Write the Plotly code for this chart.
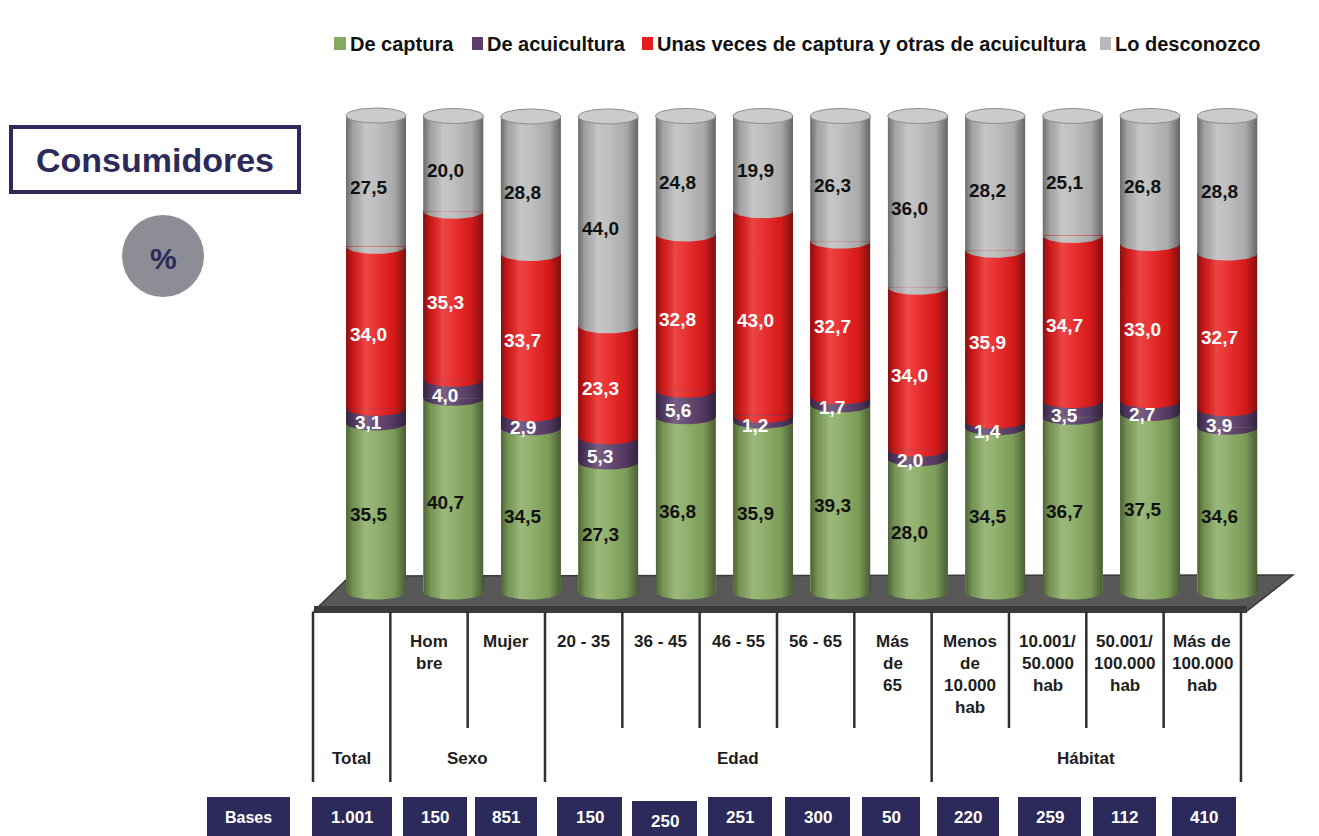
import numpy as np
import plotly.graph_objects as go

# ---- data -------------------------------------------------------------
categorias = ["Total", "Hombre", "Mujer", "20 - 35", "36 - 45", "46 - 55", "56 - 65",
              "Más de 65", "Menos de 10.000 hab", "10.001/50.000 hab",
              "50.001/100.000 hab", "Más de 100.000 hab"]
etiquetas_tabla = [[], ["Hom", "bre"], ["Mujer"], ["20 - 35"], ["36 - 45"], ["46 - 55"],
                   ["56 - 65"], ["Más", "de", "65"], ["Menos", "de", "10.000", "hab"],
                   ["10.001/", "50.000", "hab"], ["50.001/", "100.000", "hab"],
                   ["Más de", "100.000", "hab"]]
grupos = ["Total", "Sexo", "Edad", "Hábitat"]
grupo_columnas = [(0, 0), (1, 2), (3, 7), (8, 11)]

de_captura = [35.5, 40.7, 34.5, 27.3, 36.8, 35.9, 39.3, 28.0, 34.5, 36.7, 37.5, 34.6]
de_acuicultura = [3.1, 4.0, 2.9, 5.3, 5.6, 1.2, 1.7, 2.0, 1.4, 3.5, 2.7, 3.9]
unas_y_otras = [34.0, 35.3, 33.7, 23.3, 32.8, 43.0, 32.7, 34.0, 35.9, 34.7, 33.0, 32.7]
lo_desconozco = [27.5, 20.0, 28.8, 44.0, 24.8, 19.9, 26.3, 36.0, 28.2, 25.1, 26.8, 28.8]
bases = ["1.001", "150", "851", "150", "250", "251", "300", "50", "220", "259", "112", "410"]

series = [
    ("De captura", de_captura, "#86a95f", "#111111"),
    ("De acuicultura", de_acuicultura, "#5a3d6a", "#ffffff"),
    ("Unas veces de captura y otras de acuicultura", unas_y_otras, "#e81c1c", "#ffffff"),
    ("Lo desconozco", lo_desconozco, "#b9b9b9", "#111111"),
]

# ---- page geometry ----------------------------------------------------
W, H = 1319, 836
NAVY = "#2c2a5a"


def px(x):
    return x / W


def py(y):
    return 1 - y / H


# axis scales: one category unit = 77.4 px, 1 % = 4.76 px
CENTER0, STEP = 376, 77.4
ZERO_PX, PER = 592, 4.76
xa = -CENTER0 / STEP
xr = [xa, xa + W / STEP]
yr = [(ZERO_PX - H) / PER, ZERO_PX / PER]

HALF_W = 30 / STEP        # cylinder half width (x units)
ELL = 7.5 / PER           # ellipse half height (y units)

idx = list(range(len(categorias)))
fig = go.Figure()

# stacked bodies
for name, vals, col, _ in series:
    fig.add_trace(go.Bar(x=idx, y=vals, name=name, width=2 * HALF_W,
                         marker=dict(color=col, line=dict(width=0)),
                         hoverinfo="skip", showlegend=False))

t = np.linspace(0, np.pi, 25)


def lower_arc(xc, level):
    return list(xc - HALF_W * np.cos(t)), list(level - ELL * np.sin(t))


cum = np.zeros(len(idx))
for k, (name, vals, col, _) in enumerate(series):
    ax, ay = [], []
    for i in idx:
        xs, ys = lower_arc(i, cum[i])
        ax += xs + [i - HALF_W, None]
        ay += ys + [cum[i], None]
    fig.add_trace(go.Scatter(x=ax, y=ay, mode="lines", fill="toself", fillcolor=col,
                             line=dict(width=0), hoverinfo="skip", showlegend=False))
    cum = cum + np.array(vals)

totals = cum.copy()

# cylindrical shading
for i in idx:
    xs, ys = lower_arc(i, 0)
    ox = [i - HALF_W] + xs + [i + HALF_W, i - HALF_W]
    oy = [totals[i]] + ys + [totals[i], totals[i]]
    fig.add_trace(go.Scatter(
        x=ox, y=oy, mode="lines", fill="toself", line=dict(width=0),
        fillgradient=dict(type="horizontal", colorscale=[
            [0.0, "rgba(0,0,0,0.42)"], [0.12, "rgba(0,0,0,0.12)"],
            [0.32, "rgba(255,255,255,0.18)"], [0.5, "rgba(255,255,255,0.10)"],
            [0.8, "rgba(0,0,0,0.08)"], [1.0, "rgba(0,0,0,0.45)"]]),
        hoverinfo="skip", showlegend=False))

# top caps
tt = np.linspace(0, 2 * np.pi, 49)
cx, cy = [], []
for i in idx:
    cx += list(i - HALF_W * np.cos(tt)) + [None]
    cy += list(totals[i] - ELL * np.sin(tt)) + [None]
fig.add_trace(go.Scatter(x=cx, y=cy, mode="lines", fill="toself", fillcolor="#cbcbcb",
                         line=dict(width=1, color="#8c8c8c"),
                         hoverinfo="skip", showlegend=False))

annotations = []
shapes = []


def label(x, y, text, size, color, xanchor="center"):
    annotations.append(dict(x=px(x), y=py(y), xref="paper", yref="paper",
                            xanchor=xanchor, yanchor="middle", text=f"<b>{text}</b>",
                            showarrow=False,
                            font=dict(family="Arial", size=size, color=color)))


# value labels
cum = np.zeros(len(idx))
for name, vals, col, tcol in series:
    for i in idx:
        annotations.append(dict(
            x=i, y=cum[i] + vals[i] / 2, xref="x", yref="y",
            xanchor="center", yanchor="middle",
            text="<b>" + f"{vals[i]:.1f}".replace(".", ",") + "</b>",
            showarrow=False, xshift=-8, yshift=-7,
            font=dict(family="Arial", size=19, color=tcol)))
    cum = cum + np.array(vals)


# floor
def poly(points):
    return "M " + " L ".join(f"{px(x):.5f},{py(y):.5f}" for x, y in points) + " Z"


shapes.append(dict(type="path", xref="paper", yref="paper", layer="below",
                   path=poly([(314, 611), (350, 576), (1293, 575), (1247, 611)]),
                   fillcolor="#585858", line=dict(color="#3a3a3a", width=1.5)))
shapes.append(dict(type="path", xref="paper", yref="paper", layer="below",
                   path=poly([(314, 606), (1247, 606), (1247, 613), (314, 613)]),
                   fillcolor="#3a3a3a", line=dict(width=0)))

# table grid
LINE0, LSTEP = 313, 77.33
long_lines = {0, 1, 3, 8, 12}
for k in range(13):
    xk = LINE0 + LSTEP * k
    y_end = 782 if k in long_lines else 728
    shapes.append(dict(type="line", xref="paper", yref="paper",
                       x0=px(xk), x1=px(xk), y0=py(612), y1=py(y_end),
                       line=dict(color="#2f2f2f", width=2.5)))

for k, lines in enumerate(etiquetas_tabla):
    xc = LINE0 + LSTEP * (k + 0.5)
    for j, s in enumerate(lines):
        label(xc, 641 + 22 * j, s, 17, "#1e1e1e")

for g, (a, b) in zip(grupos, grupo_columnas):
    xc = LINE0 + LSTEP * ((a + b + 1) / 2)
    label(xc, 758, g, 17, "#1e1e1e")

# bases row
base_boxes = [(312, 392), (403, 467), (475, 537), (557, 622), (632, 697), (708, 772),
              (785, 850), (862, 920), (937, 999), (1018, 1081), (1093, 1156), (1172, 1236)]
box_tops = [797, 797, 797, 797, 801, 797, 797, 797, 797, 797, 797, 797]
shapes.append(dict(type="rect", xref="paper", yref="paper", x0=px(207), x1=px(290),
                   y0=py(797), y1=py(836), fillcolor=NAVY, line=dict(width=0)))
label(248, 817, "Bases", 16, "white")
for (x0, x1), top, b in zip(base_boxes, box_tops, bases):
    shapes.append(dict(type="rect", xref="paper", yref="paper", x0=px(x0), x1=px(x1),
                       y0=py(top), y1=py(836), fillcolor=NAVY, line=dict(width=0)))
    label((x0 + x1) / 2, top + 20, b, 17, "white")

# legend
legend_items = [(334, 346), (472, 483), (642, 653), (1100, 1111)]
for (x0, x1), (name, _, col, _) in zip(legend_items, series):
    shapes.append(dict(type="rect", xref="paper", yref="paper", x0=px(x0), x1=px(x1),
                       y0=py(37), y1=py(50), fillcolor=col, line=dict(width=0)))
    label(x1 + 2, 44, name, 20, "#111111", xanchor="left")

# side title
shapes.append(dict(type="rect", xref="paper", yref="paper", x0=px(11), x1=px(299),
                   y0=py(127), y1=py(192), fillcolor="white",
                   line=dict(color=NAVY, width=4)))
label(155, 160, "Consumidores", 34, NAVY)
shapes.append(dict(type="circle", xref="paper", yref="paper", x0=px(122), x1=px(204),
                   y0=py(215), y1=py(297), fillcolor="#8d8d95", line=dict(width=0)))
label(163, 258, "%", 30, NAVY)

fig.update_layout(
    width=W, height=H, margin=dict(l=0, r=0, t=0, b=0),
    barmode="stack", bargap=0,
    paper_bgcolor="white", plot_bgcolor="white",
    xaxis=dict(range=xr, visible=False, fixedrange=True),
    yaxis=dict(range=yr, visible=False, fixedrange=True),
    shapes=shapes, annotations=annotations, showlegend=False,
)

fig.write_html("out.html")
